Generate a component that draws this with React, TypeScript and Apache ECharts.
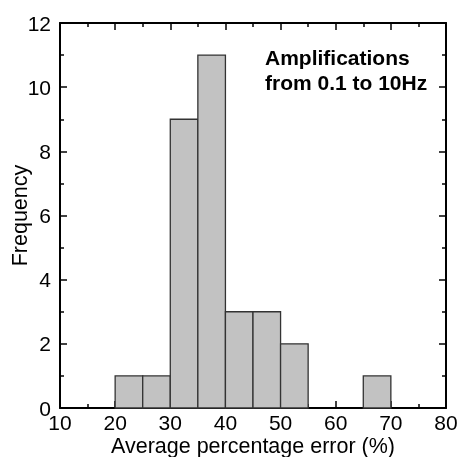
import React, { useEffect, useRef } from "react";
import * as echarts from "echarts";

const binStarts = [20, 25, 30, 35, 40, 45, 50, 55, 60, 65];
const binEnds = [25, 30, 35, 40, 45, 50, 55, 60, 65, 70];
const counts = [1, 1, 9, 11, 3, 3, 2, 0, 0, 1];
const xTitle = "Average percentage error (%)";
const yTitle = "Frequency";
const note = "Amplifications\nfrom 0.1 to 10Hz";

export default function App() {
  const ref = useRef<HTMLDivElement>(null);
  useEffect(() => {
    const chart = echarts.init(ref.current!, null, { renderer: "svg" });
    const font = "Liberation Sans, Arial, sans-serif";
    const data = binStarts.map((s, i) => [s, binEnds[i], counts[i]]);
    const axisCommon = {
      axisLine: { show: true, onZero: false, lineStyle: { color: "#000", width: 2 } },
      axisTick: { show: true, inside: true, length: 7, lineStyle: { color: "#000", width: 1.5 } },
      minorTick: { show: true, splitNumber: 2, length: 4, lineStyle: { color: "#000", width: 1.5 } },
      splitLine: { show: false },
    };
    chart.setOption({
      animation: false,
      grid: { left: 60, top: 23, right: 12, bottom: 49, containLabel: false, outerBoundsMode: "none" },
      xAxis: [
        {
          type: "value", min: 10, max: 80, interval: 10, position: "bottom",
          ...axisCommon,
          axisLabel: { fontSize: 21, color: "#000", fontFamily: font, margin: 4 },
          name: xTitle, nameLocation: "middle", nameGap: 27, nameMoveOverlap: false,
          nameTextStyle: { fontSize: 21.5, color: "#000", fontFamily: font },
        },
        {
          type: "value", min: 10, max: 80, interval: 10, position: "top",
          ...axisCommon, axisLabel: { show: false },
        },
      ],
      yAxis: [
        {
          type: "value", min: 0, max: 12, interval: 2, position: "left",
          ...axisCommon,
          axisLabel: { fontSize: 21, color: "#000", fontFamily: font, margin: 9 },
          name: yTitle, nameLocation: "middle", nameGap: 29, nameMoveOverlap: false,
          nameTextStyle: { fontSize: 21.5, color: "#000", fontFamily: font },
        },
        {
          type: "value", min: 0, max: 12, interval: 2, position: "right",
          ...axisCommon, axisLabel: { show: false },
        },
      ],
      graphic: [
        {
          type: "text", left: 265, top: 45,
          style: { text: note, font: `bold 21px ${font}`, fill: "#000", lineHeight: 25 },
        },
      ],
      series: [
        {
          type: "custom",
          data,
          encode: { x: [0, 1], y: 2 },
          renderItem: (params: any, api: any) => {
            const p0 = api.coord([api.value(0), 0]);
            const p1 = api.coord([api.value(1), api.value(2)]);
            if (api.value(2) <= 0) return null;
            return {
              type: "rect",
              shape: { x: p0[0], y: p1[1], width: p1[0] - p0[0], height: p0[1] - p1[1] },
              style: { fill: "#c2c2c2", stroke: "#333", lineWidth: 1.3 },
            };
          },
        },
      ],
    });
    return () => chart.dispose();
  }, []);
  return <div ref={ref} style={{ position: "fixed", left: 0, top: 0, width: 458, height: 457 }} />;
}
